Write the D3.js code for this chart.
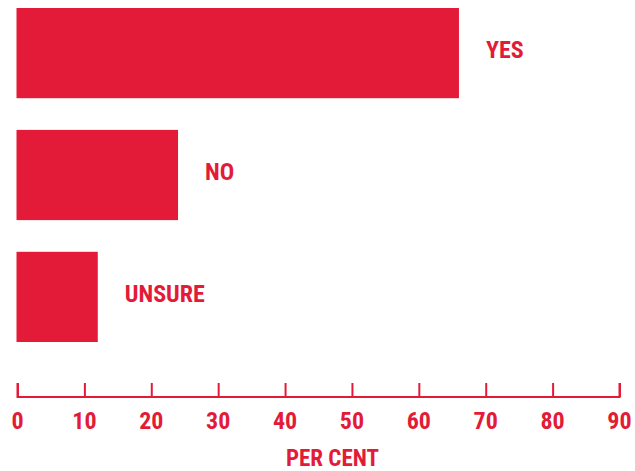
<!DOCTYPE html>
<html><head><meta charset="utf-8">
<script src="https://cdn.jsdelivr.net/npm/d3@7"></script>
<style>
body{margin:0;background:#fff;}
text{font-family:"Liberation Sans Narrow","Roboto Condensed","Liberation Sans",Arial,sans-serif;font-weight:bold;fill:#e31b38;}
</style></head>
<body>
<svg id="c" width="635" height="471"></svg>
<script>
const categories = ["YES", "NO", "UNSURE"];
const values = [66, 24, 12];
const tickValues = [0, 10, 20, 30, 40, 50, 60, 70, 80, 90];
const axisTitle = "PER CENT";

const color = "#e31b38";
const svg = d3.select("#c");
const x = d3.scaleLinear().domain([0, 90]).range([17.5, 619.5]);
const y = d3.scaleBand().domain(categories).range([8, 342]).paddingInner(0.26).paddingOuter(0);

svg.selectAll("rect.bar").data(categories).join("rect")
  .attr("class","bar")
  .attr("x", x(0) - 1)
  .attr("y", d => y(d))
  .attr("width", (d,i) => x(values[i]) - x(0) + 1)
  .attr("height", y.bandwidth())
  .attr("fill", color);

svg.selectAll("text.lbl").data(categories).join("text")
  .attr("class","lbl")
  .attr("x", (d,i) => x(values[i]) + 27)
  .attr("y", d => y(d) + y.bandwidth()/2 + 5)
  .style("font-size","24px")
  .text(d => d);

const axis = d3.axisTop(x).tickValues(tickValues).tickSize(14).tickFormat("");
const g = svg.append("g").attr("transform","translate(0,397)").call(axis);
g.select(".domain").attr("stroke", color).attr("stroke-width",2).attr("d", `M${x(0)},-14V0H${x(90)}V-14`);
g.selectAll(".tick line").attr("stroke", color).attr("stroke-width",2);

svg.selectAll("text.tl").data(tickValues).join("text")
  .attr("class","tl")
  .attr("x", d => x(d))
  .attr("y", 428.5)
  .attr("text-anchor","middle")
  .style("font-size","24px")
  .text(d => d);

svg.append("text")
  .attr("x", 332.5).attr("y", 465.5)
  .attr("text-anchor","middle")
  .style("font-size","23px")
  .text(axisTitle);
</script>
</body></html>
